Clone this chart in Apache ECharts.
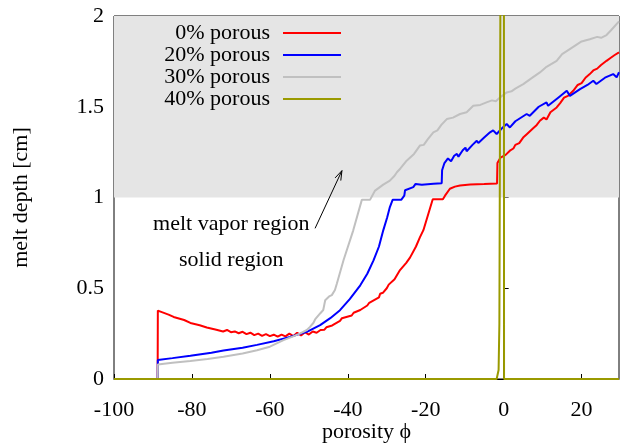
<!DOCTYPE html>
<html>
<head>
<meta charset="utf-8">
<script src="https://cdn.jsdelivr.net/npm/echarts@6/dist/echarts.min.js"></script>
<style>
  html, body { margin: 0; padding: 0; background: #fff; }
  #main { width: 621px; height: 445px; }
</style>
</head>
<body>
<div id="main"></div>
<script>
var seriesNames = ['0% porous', '20% porous', '30% porous', '40% porous'];
var xTicks = [-100, -80, -60, -40, -20, 0, 20];

// [porosity, melt depth]
var porous0 = [
  [-100, 0], [-88.8, 0], [-88.75, 0.377], [-86, 0.355], [-84.7, 0.342], [-82, 0.325], [-80.4, 0.309],
  [-78, 0.296], [-76.2, 0.284], [-74, 0.273], [-72, 0.262], [-71, 0.27], [-70, 0.258], [-69, 0.262],
  [-68, 0.252], [-67, 0.26], [-66, 0.247], [-65, 0.255], [-64, 0.242], [-63, 0.25], [-62, 0.238],
  [-61, 0.247], [-60, 0.236], [-59, 0.244], [-58, 0.233], [-57, 0.245], [-56, 0.235], [-55, 0.25],
  [-54, 0.236], [-53, 0.255], [-52, 0.24], [-51, 0.258], [-50, 0.245], [-49, 0.262], [-48, 0.255],
  [-47, 0.27], [-46, 0.272], [-45.5, 0.285], [-45, 0.28], [-44, 0.295], [-42, 0.32], [-41.5, 0.335],
  [-41, 0.325], [-39, 0.35], [-38.5, 0.365], [-38, 0.355], [-36.8, 0.38], [-35, 0.405], [-34.5, 0.42],
  [-34, 0.41], [-32, 0.45], [-31.7, 0.47], [-31, 0.475], [-30, 0.5], [-29.5, 0.52], [-29, 0.515],
  [-28, 0.55], [-26.6, 0.6], [-25, 0.64], [-24, 0.67], [-22.5, 0.73], [-21.5, 0.78], [-20.6, 0.82],
  [-18.2, 0.99], [-15.6, 0.99], [-15.05, 1.01], [-13.8, 1.048], [-12.5, 1.06], [-11.2, 1.066],
  [-8.6, 1.071], [-5, 1.074], [-1.7, 1.077], [-1.6, 1.19], [-0.8, 1.22], [0.5, 1.235], [1.6, 1.258],
  [2.5, 1.27], [3, 1.29], [4, 1.3], [5, 1.33], [6, 1.35], [6.5, 1.34], [7.5, 1.38], [8.5, 1.4],
  [9.3, 1.423], [10.3, 1.44], [11, 1.43], [12, 1.47], [13.6, 1.496], [14.5, 1.52], [15.5, 1.55],
  [16.5, 1.56], [17.85, 1.588], [19, 1.62], [20, 1.63], [21, 1.66], [22.1, 1.68], [23, 1.7],
  [24, 1.71], [25, 1.73], [26.4, 1.753], [27.5, 1.77], [28.5, 1.785], [29.6, 1.8]
];
var porous20 = [
  [-100, 0], [-88.8, 0], [-88.75, 0.105], [-85, 0.115], [-80.4, 0.128], [-75, 0.145], [-71.9, 0.157],
  [-67, 0.172], [-63.3, 0.188], [-59, 0.208], [-54.8, 0.232], [-50.5, 0.26], [-47.1, 0.297],
  [-44.5, 0.335], [-42, 0.379], [-39.5, 0.44], [-36.8, 0.516], [-35, 0.58], [-33.4, 0.654],
  [-32, 0.73], [-30.9, 0.819], [-29.9, 0.89], [-29.2, 0.947], [-28.5, 0.987], [-26.3, 0.987],
  [-25.5, 1.01], [-25.3, 1.04], [-24.8, 1.03], [-23.2, 1.057], [-22.8, 1.06], [-22.6, 1.075],
  [-22.4, 1.065], [-21, 1.07], [-18, 1.076], [-15.9, 1.079], [-15.8, 1.15], [-15.2, 1.19],
  [-14.3, 1.215], [-13.9, 1.22], [-13.5, 1.2], [-12.7, 1.23], [-12, 1.24], [-11.6, 1.225],
  [-10.5, 1.26], [-9.8, 1.275], [-9.5, 1.255], [-8, 1.29], [-6.9, 1.313], [-6.5, 1.3], [-5, 1.33],
  [-3.5, 1.359], [-2.7, 1.37], [-1.8, 1.35], [-0.5, 1.38], [0.77, 1.405], [1.6, 1.386], [3, 1.42],
  [5.9, 1.46], [6.7, 1.45], [9, 1.5], [11, 1.524], [11.4, 1.505], [14, 1.55], [16.2, 1.588],
  [17, 1.56], [19.6, 1.597], [21.5, 1.62], [23, 1.643], [23.8, 1.625], [26, 1.66], [28.1, 1.68],
  [29, 1.662], [29.6, 1.69]
];
var porous30 = [
  [-100, 0], [-88.8, 0], [-88.75, 0.08], [-85, 0.09], [-80.4, 0.099], [-76, 0.11], [-71.9, 0.123],
  [-67, 0.14], [-63.3, 0.158], [-60, 0.178], [-56.5, 0.214], [-54, 0.235], [-52.2, 0.251],
  [-50.5, 0.27], [-49.7, 0.287], [-48.8, 0.31], [-48.4, 0.328], [-47.1, 0.361], [-46.3, 0.38],
  [-45.8, 0.434], [-44.8, 0.455], [-44.1, 0.462], [-43.3, 0.49], [-42.8, 0.526], [-41.1, 0.654],
  [-38.6, 0.819], [-36.4, 0.987], [-34.3, 0.987], [-33, 1.038], [-30.9, 1.071], [-29.2, 1.093],
  [-28, 1.12], [-27.4, 1.139], [-26.5, 1.16], [-24.9, 1.203], [-23, 1.24], [-21.5, 1.286],
  [-20.5, 1.29], [-19.5, 1.32], [-18.05, 1.359], [-17, 1.37], [-16, 1.4], [-14.6, 1.432],
  [-13, 1.44], [-11.2, 1.46], [-9.5, 1.47], [-7.8, 1.505], [-6, 1.51], [-4.4, 1.524], [-3, 1.535],
  [-2, 1.53], [-0.95, 1.551], [0.77, 1.579], [2, 1.585], [3, 1.6], [5.03, 1.625], [7, 1.655],
  [9.3, 1.689], [11, 1.72], [13.6, 1.753], [15, 1.79], [17.85, 1.83], [20, 1.86], [22.1, 1.872],
  [24, 1.885], [25, 1.88], [26.4, 1.895], [27.5, 1.92], [29.6, 1.97]
];
var porous40 = [
  [-100, 0], [-1.8, 0], [-1.3, 0.05], [-1.1, 0.3], [-1.0, 1.0], [-0.85, 2.0], [-0.6, 3.0],
  [0.05, 3.0], [0.1, 0], [29.6, 0]
];

var colors = ['#ff0000', '#0000ff', '#c0c0c0', '#9a9a00'];
var serif = "'Liberation Serif', 'DejaVu Serif', serif";
var fs = 22;

var chart = echarts.init(document.getElementById('main'));

function lineSeries(name, data, color) {
  return {
    name: name,
    type: 'line',
    data: data,
    showSymbol: false,
    symbol: 'none',
    color: color,
    lineStyle: { color: color, width: 2 },
    animation: false
  };
}

var option = {
  animation: false,
  backgroundColor: '#fff',
  grid: {
    left: 114, right: 2, top: 16, bottom: 66,
    outerBoundsMode: 'none',
    containLabel: false,
    show: true, borderColor: '#000', borderWidth: 1, backgroundColor: 'transparent'
  },
  legend: {
    data: seriesNames,
    orient: 'vertical',
    align: 'right',
    right: 280,
    top: 22,
    padding: 0,
    itemGap: 0,
    itemWidth: 58,
    itemHeight: 2,
    icon: 'rect',
    textStyle: { fontFamily: serif, fontSize: fs, color: '#000', lineHeight: 22, padding: [0, 8, 0, 0] }
  },
  xAxis: {
    type: 'value',
    min: -100,
    max: 29.6,
    interval: 20,
    name: 'porosity ϕ',
    nameLocation: 'middle',
    nameGap: 42,
    nameMoveOverlap: false,
    nameTextStyle: { fontFamily: serif, fontSize: fs, color: '#000' },
    axisLine: { onZero: false, lineStyle: { color: '#000', width: 1 } },
    axisTick: { inside: true, length: 5, lineStyle: { color: '#000' }, customValues: xTicks },
    axisLabel: { fontFamily: serif, fontSize: fs, color: '#000', margin: 20, customValues: xTicks },
    splitLine: { show: false }
  },
  yAxis: {
    type: 'value',
    min: 0,
    max: 2,
    interval: 0.5,
    name: 'melt depth [cm]',
    nameLocation: 'middle',
    nameGap: 82,
    nameMoveOverlap: false,
    nameTextStyle: { fontFamily: serif, fontSize: fs, color: '#000' },
    axisLine: { lineStyle: { color: '#000', width: 1 } },
    axisTick: { inside: true, length: 5, lineStyle: { color: '#000' } },
    axisLabel: { fontFamily: serif, fontSize: fs, color: '#000', margin: 10 },
    splitLine: { show: false }
  },
  series: [
    {
      name: 'region',
      type: 'line',
      data: [],
      z: 1,
      markArea: {
        silent: true,
        itemStyle: { color: '#e5e5e5' },
        data: [[{ yAxis: 1, xAxis: -100 }, { yAxis: 2, xAxis: 29.6 }]]
      }
    },
    lineSeries(seriesNames[0], porous0, colors[0]),
    lineSeries(seriesNames[1], porous20, colors[1]),
    lineSeries(seriesNames[2], porous30, colors[2]),
    lineSeries(seriesNames[3], porous40, colors[3])
  ]
};
chart.setOption(option);

// annotations placed in data coordinates
var labelVapor = chart.convertToPixel({ gridIndex: 0 }, [-69.9, 0.855]);
var labelSolid = chart.convertToPixel({ gridIndex: 0 }, [-69.9, 0.655]);
var tail = chart.convertToPixel({ gridIndex: 0 }, [-48.4, 0.83]);
var tip = chart.convertToPixel({ gridIndex: 0 }, [-41.5, 1.148]);
var ang = Math.atan2(tip[1] - tail[1], tip[0] - tail[0]);
var hl = 10, ha = 0.32;
var h1 = [tip[0] - hl * Math.cos(ang - ha), tip[1] - hl * Math.sin(ang - ha)];
var h2 = [tip[0] - hl * Math.cos(ang + ha), tip[1] - hl * Math.sin(ang + ha)];

chart.setOption({
  graphic: [
    { type: 'text', x: labelVapor[0], y: labelVapor[1], z: 10,
      style: { text: 'melt vapor region', font: fs + 'px ' + serif, fill: '#000', align: 'center', verticalAlign: 'middle' } },
    { type: 'text', x: labelSolid[0], y: labelSolid[1], z: 10,
      style: { text: 'solid region', font: fs + 'px ' + serif, fill: '#000', align: 'center', verticalAlign: 'middle' } },
    { type: 'line', z: 10, shape: { x1: tail[0], y1: tail[1], x2: tip[0], y2: tip[1] },
      style: { stroke: '#000', lineWidth: 1 } },
    { type: 'polyline', z: 10, shape: { points: [h1, tip, h2] },
      style: { stroke: '#000', lineWidth: 1, fill: null } }
  ]
});
</script>
</body>
</html>
